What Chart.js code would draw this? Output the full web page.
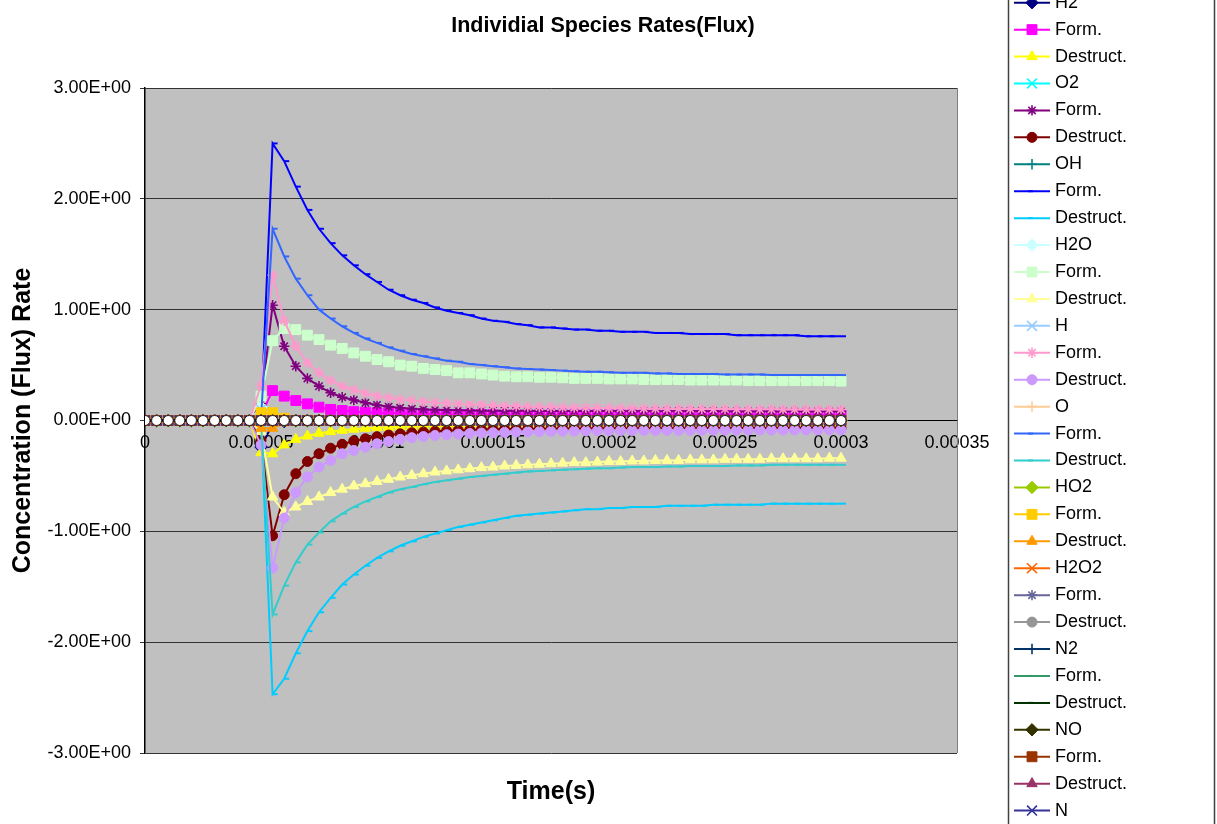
<!DOCTYPE html>
<html>
<head>
<meta charset="utf-8">
<title>Individial Species Rates(Flux)</title>
<script src="https://cdn.jsdelivr.net/npm/chart.js@4.4.0/dist/chart.umd.min.js"></script>
<style>
  html, body { margin: 0; padding: 0; background: #fff; }
  #wrap { position: relative; width: 1217px; height: 824px; overflow: hidden; }
</style>
</head>
<body>
<div id="wrap"><canvas id="fluxChart" width="1217" height="824"></canvas></div>
<script>
// time points in microseconds (0 .. 300 us, every 5 us)
const timeMicro = [0,5,10,15,20,25,30,35,40,45,50,55,60,65,70,75,80,85,90,95,100,105,110,115,120,125,130,135,140,145,150,155,160,165,170,175,180,185,190,195,200,205,210,215,220,225,230,235,240,245,250,255,260,265,270,275,280,285,290,295,300];

const xTickLabels = ['0', '0.00005', '0.0001', '0.00015', '0.0002', '0.00025', '0.0003', '0.00035'];
const yTickLabels = ['-3.00E+00', '-2.00E+00', '-1.00E+00', '0.00E+00', '1.00E+00', '2.00E+00', '3.00E+00'];

// series
const zeroRates = [0,0,0,0,0,0,0,0,0,0, 0, 0,0,0,0,0,0,0,0,0,0, 0,0,0,0,0,0,0,0,0,0, 0,0,0,0,0,0,0,0,0,0, 0,0,0,0,0,0,0,0,0,0, 0,0,0,0,0,0,0,0,0,0];

const h2Net = [0,0,0,0,0,0,0,0,0,0, -0.24, -0.03,-0.01,0,0,0,0,0,0,0,0, 0,0,0,0,0,0,0,0,0,0, 0,0,0,0,0,0,0,0,0,0, 0,0,0,0,0,0,0,0,0,0, 0,0,0,0,0,0,0,0,0,0];
const h2Form = [0,0,0,0,0,0,0,0,0,0, 0.05, 0.27,0.22,0.18,0.15,0.12,0.10,0.09,0.08,0.075,0.07, 0.068,0.065,0.062,0.06,0.058,0.056,0.055,0.054,0.053,0.052, 0.051,0.051,0.05,0.05,0.05,0.05,0.05,0.05,0.05,0.05, 0.05,0.05,0.05,0.05,0.05,0.05,0.05,0.05,0.05,0.05, 0.05,0.05,0.05,0.05,0.05,0.05,0.05,0.05,0.05,0.05];
const h2Destruct = [0,0,0,0,0,0,0,0,0,0, -0.29, -0.30,-0.22,-0.17,-0.14,-0.115,-0.10,-0.088,-0.078,-0.07,-0.065, -0.06,-0.057,-0.055,-0.053,-0.051,-0.05,-0.049,-0.048,-0.047,-0.046, -0.045,-0.045,-0.044,-0.044,-0.043,-0.043,-0.043,-0.042,-0.042,-0.042, -0.042,-0.041,-0.041,-0.041,-0.041,-0.041,-0.04,-0.04,-0.04,-0.04, -0.04,-0.04,-0.04,-0.04,-0.04,-0.04,-0.04,-0.04,-0.04,-0.04];
const o2Net = [0,0,0,0,0,0,0,0,0,0, -0.03, 0.01,0,0,0,0,0,0,0,0,0, 0,0,0,0,0,0,0,0,0,0, 0,0,0,0,0,0,0,0,0,0, 0,0,0,0,0,0,0,0,0,0, 0,0,0,0,0,0,0,0,0,0];
const o2Form = [0,0,0,0,0,0,0,0,0,0, 0.15, 1.04,0.67,0.49,0.38,0.31,0.25,0.21,0.185,0.16,0.14, 0.125,0.115,0.107,0.10,0.097,0.094,0.092,0.09,0.089,0.088, 0.088,0.087,0.087,0.086,0.086,0.086,0.085,0.085,0.085,0.085, 0.084,0.084,0.084,0.084,0.083,0.083,0.083,0.083,0.083,0.082, 0.082,0.082,0.082,0.082,0.082,0.081,0.081,0.081,0.081,0.081];
const o2Destruct = [0,0,0,0,0,0,0,0,0,0, -0.18, -1.04,-0.67,-0.48,-0.37,-0.30,-0.25,-0.215,-0.185,-0.165,-0.146, -0.131,-0.12,-0.11,-0.103,-0.097,-0.092,-0.088,-0.085,-0.082,-0.08, -0.078,-0.077,-0.076,-0.075,-0.074,-0.073,-0.072,-0.072,-0.071,-0.071, -0.07,-0.07,-0.07,-0.069,-0.069,-0.069,-0.068,-0.068,-0.068,-0.068, -0.067,-0.067,-0.067,-0.067,-0.067,-0.066,-0.066,-0.066,-0.066,-0.066];
const ohNet = [0,0,0,0,0,0,0,0,0,0, 0.0, 0.03,0.01,0.01,0,0,0,0,0,0,0, 0,0,0,0,0,0,0,0,0,0, 0,0,0,0,0,0,0,0,0,0, 0,0,0,0,0,0,0,0,0,0, 0,0,0,0,0,0,0,0,0,0];
const ohForm = [0,0,0,0,0,0,0,0,0,0, 0.03, 2.50,2.34,2.11,1.90,1.73,1.60,1.49,1.40,1.32,1.25, 1.18,1.13,1.09,1.06,1.02,0.99,0.97,0.95,0.92,0.90, 0.89,0.87,0.86,0.84,0.84,0.83,0.82,0.82,0.81,0.81, 0.80,0.80,0.80,0.79,0.79,0.79,0.78,0.78,0.78,0.78, 0.77,0.77,0.77,0.77,0.77,0.77,0.76,0.76,0.76,0.76];
const ohDestruct = [0,0,0,0,0,0,0,0,0,0, -0.03, -2.47,-2.33,-2.10,-1.90,-1.73,-1.60,-1.48,-1.39,-1.31,-1.24, -1.18,-1.13,-1.09,-1.05,-1.02,-0.99,-0.96,-0.94,-0.92,-0.90, -0.88,-0.86,-0.85,-0.84,-0.83,-0.82,-0.81,-0.80,-0.80,-0.79, -0.79,-0.78,-0.78,-0.78,-0.77,-0.77,-0.77,-0.77,-0.76,-0.76, -0.76,-0.76,-0.76,-0.75,-0.75,-0.75,-0.75,-0.75,-0.75,-0.75];
const h2oNet = [0,0,0,0,0,0,0,0,0,0, 0.12, 0.03,0,0,0,0,0,0,0,0,0, 0,0,0,0,0,0,0,0,0,0, 0,0,0,0,0,0,0,0,0,0, 0,0,0,0,0,0,0,0,0,0, 0,0,0,0,0,0,0,0,0,0];
const h2oForm = [0,0,0,0,0,0,0,0,0,0, 0.22, 0.72,0.83,0.82,0.77,0.73,0.68,0.65,0.61,0.58,0.55, 0.53,0.50,0.49,0.47,0.46,0.45,0.43,0.43,0.42,0.41, 0.40,0.395,0.395,0.39,0.39,0.385,0.38,0.38,0.38,0.375, 0.375,0.375,0.37,0.37,0.37,0.37,0.365,0.365,0.365,0.365, 0.365,0.36,0.36,0.36,0.36,0.36,0.36,0.36,0.36,0.355];
const h2oDestruct = [0,0,0,0,0,0,0,0,0,0, -0.10, -0.69,-0.83,-0.78,-0.73,-0.69,-0.65,-0.62,-0.59,-0.57,-0.55, -0.53,-0.51,-0.495,-0.48,-0.465,-0.455,-0.445,-0.435,-0.425,-0.42, -0.41,-0.405,-0.40,-0.395,-0.39,-0.385,-0.38,-0.38,-0.375,-0.37, -0.37,-0.365,-0.365,-0.36,-0.36,-0.36,-0.355,-0.355,-0.355,-0.35, -0.35,-0.35,-0.35,-0.345,-0.345,-0.345,-0.345,-0.345,-0.34,-0.34];
const hNet = [0,0,0,0,0,0,0,0,0,0, 0.10, -0.02,0,0,0,0,0,0,0,0,0, 0,0,0,0,0,0,0,0,0,0, 0,0,0,0,0,0,0,0,0,0, 0,0,0,0,0,0,0,0,0,0, 0,0,0,0,0,0,0,0,0,0];
const hForm = [0,0,0,0,0,0,0,0,0,0, 0.32, 1.31,0.90,0.67,0.52,0.43,0.36,0.31,0.275,0.245,0.22, 0.205,0.19,0.18,0.17,0.16,0.155,0.15,0.145,0.14,0.135, 0.13,0.128,0.125,0.122,0.12,0.118,0.116,0.115,0.113,0.112, 0.11,0.11,0.108,0.107,0.106,0.105,0.105,0.104,0.103,0.103, 0.102,0.102,0.101,0.101,0.10,0.10,0.10,0.10,0.10,0.10];
const hDestruct = [0,0,0,0,0,0,0,0,0,0, -0.22, -1.33,-0.88,-0.65,-0.51,-0.42,-0.36,-0.30,-0.27,-0.24,-0.21, -0.19,-0.17,-0.155,-0.145,-0.135,-0.128,-0.122,-0.117,-0.113,-0.11, -0.107,-0.104,-0.102,-0.10,-0.098,-0.096,-0.095,-0.094,-0.093,-0.092, -0.091,-0.091,-0.09,-0.09,-0.089,-0.089,-0.088,-0.088,-0.088,-0.087, -0.087,-0.087,-0.086,-0.086,-0.086,-0.086,-0.085,-0.085,-0.085,-0.085];
const oForm = [0,0,0,0,0,0,0,0,0,0, 0.02, 1.73,1.48,1.28,1.13,1.00,0.92,0.85,0.79,0.74,0.70, 0.66,0.63,0.60,0.58,0.56,0.54,0.53,0.51,0.50,0.49, 0.48,0.47,0.465,0.46,0.455,0.45,0.445,0.44,0.44,0.435, 0.43,0.43,0.43,0.425,0.425,0.42,0.42,0.42,0.42,0.415, 0.415,0.415,0.415,0.41,0.41,0.41,0.41,0.41,0.41,0.41];
const oDestruct = [0,0,0,0,0,0,0,0,0,0, -0.02, -1.75,-1.49,-1.28,-1.12,-1.01,-0.91,-0.84,-0.78,-0.73,-0.69, -0.65,-0.62,-0.60,-0.575,-0.555,-0.54,-0.525,-0.51,-0.50,-0.49, -0.48,-0.47,-0.46,-0.455,-0.45,-0.445,-0.44,-0.435,-0.43,-0.43, -0.425,-0.42,-0.42,-0.42,-0.415,-0.415,-0.41,-0.41,-0.41,-0.41, -0.405,-0.405,-0.405,-0.40,-0.40,-0.40,-0.40,-0.40,-0.40,-0.40];
const ho2Form = [0,0,0,0,0,0,0,0,0,0, 0.07, 0.07,0.02,0,0,0,0,0,0,0,0, 0,0,0,0,0,0,0,0,0,0, 0,0,0,0,0,0,0,0,0,0, 0,0,0,0,0,0,0,0,0,0, 0,0,0,0,0,0,0,0,0,0];
const ho2Destruct = [0,0,0,0,0,0,0,0,0,0, -0.07, -0.07,-0.02,0,0,0,0,0,0,0,0, 0,0,0,0,0,0,0,0,0,0, 0,0,0,0,0,0,0,0,0,0, 0,0,0,0,0,0,0,0,0,0, 0,0,0,0,0,0,0,0,0,0];

const seriesLabels = ['H2','Form.','Destruct.','O2','Form.','Destruct.','OH','Form.','Destruct.','H2O','Form.','Destruct.','H','Form.','Destruct.','O','Form.','Destruct.','HO2','Form.','Destruct.','H2O2','Form.','Destruct.','N2','Form.','Destruct.','NO','Form.','Destruct.','N','Form.','Destruct.'];
const seriesValues = [h2Net, h2Form, h2Destruct, o2Net, o2Form, o2Destruct, ohNet, ohForm, ohDestruct, h2oNet, h2oForm, h2oDestruct, hNet, hForm, hDestruct, zeroRates, oForm, oDestruct, zeroRates, ho2Form, ho2Destruct, zeroRates, zeroRates, zeroRates, zeroRates, zeroRates, zeroRates, zeroRates, zeroRates, zeroRates, zeroRates, zeroRates, zeroRates];

// Excel-like palette and markers
const seriesColors = ['#000080','#FF00FF','#FFFF00','#00FFFF','#800080','#800000','#008080','#0000FF','#00CCFF','#CCFFFF','#CCFFCC','#FFFF99','#99CCFF','#FF99CC','#CC99FF','#FFCC99','#3366FF','#33CCCC','#99CC00','#FFCC00','#FF9900','#FF6600','#666699','#969696','#003366','#339966','#003300','#333300','#993300','#993366','#333399','#333333','#000000'];
const markerCycle = ['rectRot','rect','triangle','crossRot','star','circle','cross','dash','dash'];
const markerRadius = { rectRot: 6.2, rect: 7, triangle: 6, crossRot: 7, star: 5.2, circle: 5, cross: 5.2, dash: 5 };
const markerStroke = { rectRot: 1, rect: 1, triangle: 1, crossRot: 1.6, star: 1.6, circle: 1, cross: 1.6, dash: 2 };

const FONT = '"Liberation Sans", Arial, sans-serif';

function buildDatasets() {
  const n = seriesLabels.length;
  return seriesLabels.map((label, i) => {
    const style = markerCycle[i % markerCycle.length];
    const color = seriesColors[i];
    const isLast = i === n - 1;
    return {
      label: label,
      data: seriesValues[i].map((v, k) => ({ x: timeMicro[k] * 1e-6, y: v })),
      borderColor: color,
      backgroundColor: color,
      borderWidth: 2,
      pointStyle: style,
      pointRadius: markerRadius[style],
      pointBorderWidth: markerStroke[style],
      pointBackgroundColor: isLast ? '#FFFFFF' : color,
      pointBorderColor: isLast ? '#222222' : color,
      tension: 0,
      order: n - i
    };
  });
}

// gray plot area with border
const plotArea = {
  id: 'plotArea',
  beforeDraw(chart) {
    const a = chart.chartArea;
    const ctx = chart.ctx;
    ctx.save();
    ctx.fillStyle = '#C0C0C0';
    ctx.fillRect(a.left, a.top, a.right - a.left, a.bottom - a.top);
    ctx.restore();
  },
  beforeDatasetsDraw(chart) {
    const a = chart.chartArea;
    const ctx = chart.ctx;
    ctx.save();
    ctx.strokeStyle = '#808080';
    ctx.lineWidth = 1;
    ctx.beginPath();
    ctx.moveTo(a.right + 0.5, a.top);
    ctx.lineTo(a.right + 0.5, a.bottom);
    ctx.stroke();
    ctx.restore();
  }
};

// chart title and x axis title
const titles = {
  id: 'titles',
  afterDraw(chart) {
    const a = chart.chartArea;
    const ctx = chart.ctx;
    ctx.save();
    ctx.fillStyle = '#000';
    ctx.textAlign = 'center';
    ctx.textBaseline = 'alphabetic';
    ctx.font = 'bold 21.5px ' + FONT;
    ctx.fillText('Individial Species Rates(Flux)', 603, 32);
    ctx.font = 'bold 25px ' + FONT;
    ctx.fillText('Time(s)', (a.left + a.right) / 2, 799);
    ctx.restore();
  }
};

// legend on the right, running past the top and bottom edges
const sideLegend = {
  id: 'sideLegend',
  afterDraw(chart) {
    const ctx = chart.ctx;
    ctx.save();
    ctx.fillStyle = '#FFFFFF';
    ctx.fillRect(1008, -5, 207, 840);
    ctx.strokeStyle = '#404040';
    ctx.lineWidth = 1.5;
    ctx.strokeRect(1008.5, -5, 206, 840);
    ctx.font = '18px ' + FONT;
    ctx.textBaseline = 'middle';
    ctx.textAlign = 'left';
    chart.data.datasets.forEach((ds, i) => {
      const y = 2.7 + i * 26.93;
      ctx.strokeStyle = ds.borderColor;
      ctx.lineWidth = 2;
      ctx.beginPath();
      ctx.moveTo(1014, y);
      ctx.lineTo(1050, y);
      ctx.stroke();
      ctx.fillStyle = ds.pointBackgroundColor;
      ctx.strokeStyle = ds.pointBorderColor;
      ctx.lineWidth = ds.pointBorderWidth;
      const mx = ds.pointStyle === 'dash' ? 1028 : 1032;
      if (Chart.helpers && Chart.helpers.drawPoint) {
        Chart.helpers.drawPoint(ctx, { pointStyle: ds.pointStyle, radius: ds.pointRadius, rotation: 0, borderWidth: ds.pointBorderWidth }, mx, y);
      }
      ctx.fillStyle = '#000';
      ctx.fillText(ds.label, 1055, y);
    });
    ctx.restore();
  }
};

const ctx = document.getElementById('fluxChart');
new Chart(ctx, {
  type: 'line',
  data: { datasets: buildDatasets() },
  options: {
    responsive: false,
    animation: false,
    devicePixelRatio: 1,
    layout: { padding: { top: 88, right: 260, bottom: 71, left: 0 } },
    plugins: {
      legend: { display: false },
      title: { display: false },
      tooltip: { enabled: false }
    },
    scales: {
      x: {
        type: 'linear',
        position: { y: 0 },
        min: 0,
        max: 0.00035,
        grid: { display: false, drawTicks: false },
        border: { display: true, color: '#000000', width: 1 },
        ticks: {
          stepSize: 0.00005,
          autoSkip: false,
          maxRotation: 0,
          padding: 12,
          color: '#000',
          font: { family: FONT, size: 18 },
          callback: (value, index) => xTickLabels[index]
        }
      },
      y: {
        type: 'linear',
        min: -3,
        max: 3,
        afterFit: (scale) => { scale.width = 145; },
        grid: { color: '#333333', lineWidth: 1, tickLength: 5, drawTicks: true },
        border: { display: true, color: '#000000', width: 1.5 },
        ticks: {
          stepSize: 1,
          padding: 9,
          color: '#000',
          font: { family: FONT, size: 18 },
          callback: (value, index) => yTickLabels[index]
        },
        title: {
          display: true,
          text: 'Concentration (Flux) Rate',
          color: '#000',
          padding: { top: 8, bottom: 0 },
          font: { family: FONT, size: 25, weight: 'bold' }
        }
      }
    }
  },
  plugins: [plotArea, titles, sideLegend]
});
</script>
</body>
</html>
